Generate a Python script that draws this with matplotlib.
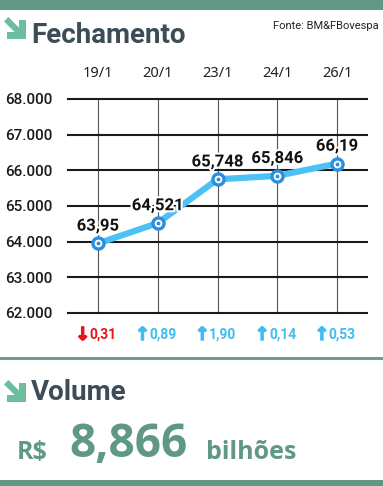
import matplotlib
matplotlib.use("Agg")
import matplotlib.pyplot as plt
import matplotlib.patheffects as pe
from matplotlib.patches import Rectangle, Polygon

# data
dates = ['19/1', '20/1', '23/1', '24/1', '26/1']
closes = [63950, 64521, 65748, 65846, 66190]
close_labels = ['63,95', '64,521', '65,748', '65,846', '66,19']
changes = ['0,31', '0,89', '1,90', '0,14', '0,53']
change_up = [False, True, True, True, True]
yticks = [62000, 63000, 64000, 65000, 66000, 67000, 68000]
ytick_labels = ['62.000', '63.000', '64.000', '65.000', '66.000', '67.000', '68.000']
volume = '8,866'

W, H = 383, 486
GREEN = '#5f9885'
SLATE = '#3d4d55'
ARROW_GREEN = '#6dbd9f'
LINE_BLUE = '#4cc1f3'
MARK_BLUE = '#2a8fe0'
RED = '#e8141b'
UP_BLUE = '#3dbdf0'


def fx(x):
    return x / W


def fy(y):
    return 1 - y / H


fig = plt.figure(figsize=(W / 100, H / 100), dpi=100)
fig.patch.set_facecolor('white')

# green bars / rules
fig.add_artist(Rectangle((0, fy(10)), 1, 10 / H, transform=fig.transFigure, color=GREEN, lw=0))
fig.add_artist(Rectangle((0, fy(359.5)), 1, 3 / H, transform=fig.transFigure, color='#6a9f8b', lw=0))
fig.add_artist(Rectangle((0, 0), 1, 6 / H, transform=fig.transFigure, color=GREEN, lw=0))


def arrow_icon(x0, y0, s=22):
    # diagonal arrow pointing down-right, pixel coords from top-left
    def p(a, b):
        return (fx(x0 + a * s / 20), fy(y0 + b * s / 20))
    head = [p(14, 3), p(20, 3), p(20, 20), p(3, 20), p(3, 14), p(14, 14)]
    fig.add_artist(Polygon(head, closed=True, transform=fig.transFigure,
                           color=ARROW_GREEN, lw=0))
    shaft = [p(0, 4), p(4, 0), p(17, 13), p(13, 17)]
    fig.add_artist(Polygon(shaft, closed=True, transform=fig.transFigure,
                           color=ARROW_GREEN, lw=0))


arrow_icon(4, 17)
fig.text(fx(31), fy(43), 'Fechamento', family='Roboto', weight='bold', fontsize=20,
         color=SLATE, ha='left', va='baseline')
fig.text(fx(379), fy(29), 'Fonte: BM&FBovespa', family='Roboto', fontsize=8,
         color='#222222', ha='right', va='baseline')

# chart
ax = fig.add_axes([fx(68), fy(313), (367 - 68) / W, (313 - 99) / H])
x = list(range(len(dates)))
ax.set_xlim(-0.5, 4.5)
ax.set_ylim(62000, 68000)
for s in ax.spines.values():
    s.set_visible(False)

ax.set_yticks(yticks)
ax.set_yticklabels(ytick_labels, family='Roboto', weight='medium', fontsize=11,
                   color='#1a1a1a')
ax.set_xticks(x)
ax.set_xticklabels(dates, family='Noto Sans', fontsize=10.5, color='#222222')
ax.xaxis.tick_top()
ax.tick_params(axis='x', length=0, pad=13)
ax.tick_params(axis='y', length=0, pad=11)

ax.grid(axis='y', color='#1a1a1a', lw=1.5)
ax.grid(axis='x', color='#555555', lw=0.8)
for gl in ax.get_ygridlines() + ax.get_xgridlines():
    gl.set_clip_on(False)
ax.set_axisbelow(True)

ax.plot(x, closes, color=LINE_BLUE, lw=4.5, solid_capstyle='round', zorder=3)
ax.plot(x, closes, 'o', ms=8, mfc='white', mec=MARK_BLUE, mew=2.4, zorder=4)
ax.plot(x, closes, 'o', ms=1.8, color=MARK_BLUE, zorder=5)

for xi, v, lab in zip(x, closes, close_labels):
    ax.annotate(lab, (xi, v), xytext=(0, 12.5), textcoords='offset points',
                ha='center', va='center', family='Roboto', weight='bold',
                fontsize=12, color='#111111', zorder=6,
                path_effects=[pe.withStroke(linewidth=3, foreground='white')])

xt = ax.get_xaxis_transform()
for xi, ch, up in zip(x, changes, change_up):
    col = UP_BLUE if up else RED
    arr = '\u2191' if up else '\u2193'
    ax.annotate(arr, (xi, -0.103), xycoords=xt, xytext=(-5.5, 0),
                textcoords='offset points', ha='right', va='center',
                family='DejaVu Sans', weight='bold', fontsize=13, color=col,
                annotation_clip=False,
                path_effects=[pe.withStroke(linewidth=1, foreground=col)])
    ax.annotate(ch, (xi, -0.103), xycoords=xt, xytext=(-6, 0),
                textcoords='offset points', ha='left', va='center',
                family='Roboto', weight='bold', fontsize=10, color=col,
                annotation_clip=False)

# volume block
arrow_icon(4, 380)
fig.text(fx(31), fy(400), 'Volume', family='Roboto', weight='bold', fontsize=20,
         color=SLATE, ha='left', va='baseline')
fig.text(fx(17), fy(459), 'R$', family='Open Sans', weight='bold', fontsize=18,
         color=GREEN, ha='left', va='baseline')
fig.text(fx(69), fy(457), volume, family='Open Sans', weight='bold', fontsize=33,
         color=GREEN, ha='left', va='baseline')
fig.text(fx(206), fy(459), 'bilhões', family='Open Sans', weight='bold', fontsize=18,
         color=GREEN, ha='left', va='baseline')

fig.savefig('out.png', dpi=100)
